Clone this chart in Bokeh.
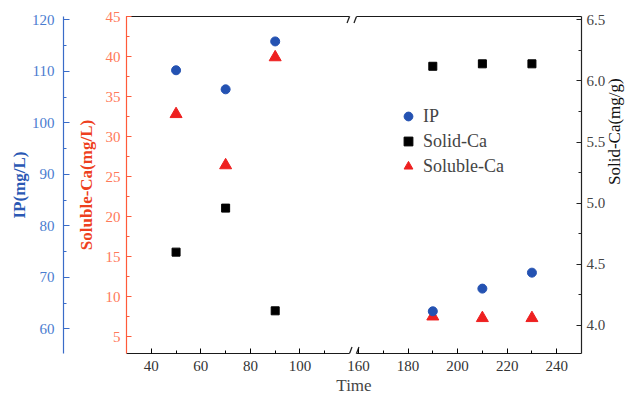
import math
from bokeh.plotting import figure
from bokeh.models import (Range1d, LinearAxis, FixedTicker, SingleIntervalTicker,
                          CustomJSTickFormatter, PrintfTickFormatter,
                          Legend, LegendItem, ColumnDataSource)
from bokeh.embed import file_html
from bokeh.resources import INLINE

# ---- data ----
time = [50, 70, 90, 190, 210, 230]
ip = [110.2, 106.5, 115.8, 63.4, 67.8, 70.9]
solid_ca = [4.60, 4.96, 4.12, 6.12, 6.14, 6.14]
soluble_ca = [32.8, 26.4, 39.9, 7.5, 7.3, 7.3]

x_major = [40, 60, 80, 100, 160, 180, 200, 220, 240]
x_minor = [50, 70, 90, 110, 170, 190, 210, 230]
x_start, x_end = 30, 250
x_break_lo, x_break_hi = 123.6, 160   # broken-axis segment ends

gap = x_break_hi - x_break_lo


def tx(v):
    return v if v <= x_break_lo else v - gap


FONT = "Liberation Serif"
BLUE_M, RED_M = "#2452b2", "#ee2020"
BLUE_AX, BLUE_LB, BLUE_TT = "#3a6cc8", "#4a7cd0", "#2a58b4"
RED_AX, RED_LB, RED_TT = "#ff5a3a", "#ff7a5a", "#ee4020"

src = ColumnDataSource(dict(x=[tx(t) for t in time], ip=ip,
                            solid=solid_ca, soluble=soluble_ca))

red_range = Range1d(2.875, 45.0)
xr = Range1d(tx(x_start), tx(x_end))
p = figure(width=636, height=400, output_backend="svg", toolbar_location=None,
           x_range=xr, y_range=red_range,
           min_border_left=126, min_border_right=53, min_border_top=16,
           min_border_bottom=47, outline_line_color=None)
p.extra_y_ranges = {"ip": Range1d(55.2, 120.64), "solid": Range1d(3.771, 6.527)}
p.xgrid.visible = False
p.ygrid.visible = False


def style(ax, line, lab, tick_in=5, minor_in=3):
    ax.axis_line_color = line
    ax.axis_line_width = 1.2
    ax.major_tick_line_color = line
    ax.minor_tick_line_color = line
    ax.major_tick_in = tick_in
    ax.major_tick_out = 0
    ax.minor_tick_in = minor_in
    ax.minor_tick_out = 0
    ax.major_label_text_font = FONT
    ax.major_label_text_font_size = "15px"
    ax.major_label_text_color = lab
    ax.axis_label_text_font = FONT
    ax.axis_label_text_line_height = 1.0


def line_axis(lo, hi):
    # a size-less axis that only draws its rule between lo and hi
    return LinearAxis(ticker=FixedTicker(ticks=[]), bounds=(lo, hi),
                      axis_line_color="#1a1a1a", axis_line_width=1.2,
                      major_tick_line_color=None, minor_tick_line_color=None,
                      major_tick_in=0, major_tick_out=0, major_label_standoff=0,
                      major_label_text_font_size="0px")


# break positions on the drawn axis
brk_a = x_break_lo - 3.6
brk_b = x_break_lo - 0.8

# x axis (ticks and labels; its rule is drawn in two pieces)
xax = p.below[0]
xax.ticker = FixedTicker(ticks=[tx(v) for v in x_major],
                         minor_ticks=[tx(v) for v in x_minor])
xax.formatter = CustomJSTickFormatter(args=dict(gap=gap, lo=x_break_lo),
                                      code="return String(Math.round(tick > lo - 1 ? tick + gap : tick));")
style(xax, "black", "#333333")
xax.axis_line_color = None
xax.major_label_standoff = 7
xax.axis_label = "Time"
xax.axis_label_text_font_size = "17px"
xax.axis_label_text_font_style = "normal"
xax.axis_label_standoff = 2
p.below = [line_axis(xr.start, brk_a), line_axis(brk_b, xr.end), xax]
p.above = [line_axis(xr.start, brk_a), line_axis(brk_b, xr.end)]

# red (Soluble-Ca) axis
rax = p.left[0]
rax.ticker = SingleIntervalTicker(interval=5, num_minor_ticks=2)
style(rax, RED_AX, RED_LB)
rax.major_label_standoff = 6
rax.axis_label = "Soluble-Ca(mg/L)"
rax.axis_label_text_color = RED_TT
rax.axis_label_text_font_style = "bold"
rax.axis_label_text_font_size = "17px"
rax.axis_label_standoff = 7

# spacer between red and blue axes (one invisible tick so it takes room)
spacer = LinearAxis(ticker=FixedTicker(ticks=[20]), axis_line_color=None,
                    major_tick_line_color=None, minor_tick_line_color=None,
                    major_tick_out=10, major_tick_in=0, major_label_standoff=0,
                    major_label_text_font_size="1px", major_label_text_color=None,
                    formatter=CustomJSTickFormatter(code="return '';"))
p.add_layout(spacer, "left")

# blue (IP) axis
bax = LinearAxis(y_range_name="ip", ticker=SingleIntervalTicker(interval=10, num_minor_ticks=2))
style(bax, BLUE_AX, BLUE_LB, tick_in=6)
bax.major_label_standoff = 9
bax.axis_label = "IP(mg/L)"
bax.axis_label_text_color = BLUE_TT
bax.axis_label_text_font_style = "bold"
bax.axis_label_text_font_size = "17px"
bax.axis_label_standoff = 0
p.add_layout(bax, "left")

# right (Solid-Ca) axis
sax = LinearAxis(y_range_name="solid", ticker=SingleIntervalTicker(interval=0.5, num_minor_ticks=2),
                 formatter=PrintfTickFormatter(format="%.1f"))
style(sax, "#222222", "#444444")
sax.major_label_standoff = 5
sax.axis_label = "Solid-Ca(mg/g)"
sax.axis_label_text_color = "#111111"
sax.axis_label_text_font_style = "normal"
sax.axis_label_text_font_size = "17px"
sax.axis_label_standoff = 6
if hasattr(sax, "axis_label_orientation"):
    sax.axis_label_orientation = math.pi / 2
p.add_layout(sax, "right")

# data marks
r_sol = p.scatter("x", "soluble", source=src, marker="triangle", size=12,
                  fill_color=RED_M, line_color=RED_M)
r_sld = p.scatter("x", "solid", source=src, marker="square", size=8,
                  fill_color="black", line_color="black", y_range_name="solid")
r_ip = p.scatter("x", "ip", source=src, marker="circle", size=9,
                 fill_color=BLUE_M, line_color=BLUE_M, y_range_name="ip")

# axis-break slashes (bottom and top)
dx, dy = 1.0, 0.8
x0s, y0s, x1s, y1s = [], [], [], []
for yv in (red_range.start, red_range.end):
    for xc in (brk_a, brk_b):
        x0s.append(xc - dx); y0s.append(yv - dy)
        x1s.append(xc + dx); y1s.append(yv + dy)
p.segment(x0s, y0s, x1s, y1s, line_color="#222222", line_width=1.3)

legend = Legend(items=[LegendItem(label="IP", renderers=[r_ip]),
                       LegendItem(label="Solid-Ca", renderers=[r_sld]),
                       LegendItem(label="Soluble-Ca", renderers=[r_sol])],
                location=(271, 176), glyph_width=22, glyph_height=22,
                label_standoff=4, spacing=3, padding=0, margin=0,
                border_line_color=None, background_fill_alpha=0,
                label_text_font=FONT, label_text_font_size="18px")
p.add_layout(legend)

open("out.html", "w").write(file_html(p, INLINE))
